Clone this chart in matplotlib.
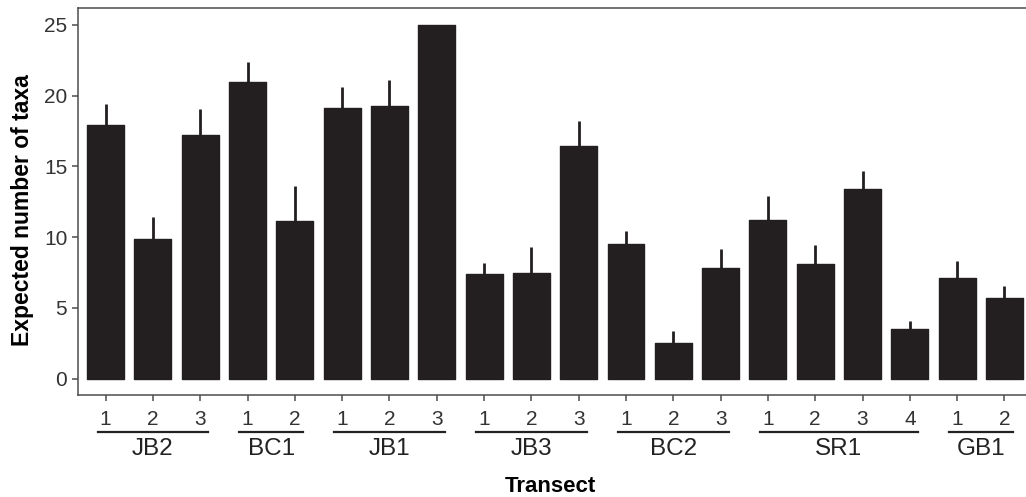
import numpy as np
import matplotlib
matplotlib.use('Agg')
import matplotlib.pyplot as plt
import matplotlib.transforms as mtransforms

plt.rcParams['font.family'] = ['Liberation Sans', 'DejaVu Sans']

# Daten
groups = ['JB2', 'BC1', 'JB1', 'JB3', 'BC2', 'SR1', 'GB1']
group_sizes = [3, 2, 3, 3, 3, 4, 2]
means = [17.9, 9.85, 17.2, 21.0, 11.15, 19.1, 19.3, 25.0, 7.4, 7.45,
         16.45, 9.5, 2.55, 7.8, 11.2, 8.1, 13.4, 3.5, 7.15, 5.7]
upper = [19.4, 11.4, 19.05, 22.4, 13.65, 20.6, 21.1, 25.0, 8.2, 9.3,
         18.2, 10.45, 3.4, 9.15, 12.9, 9.45, 14.65, 4.1, 8.35, 6.55]
tick_labels = [str(i + 1) for n in group_sizes for i in range(n)]

BAR_COL = '#231f20'
AX_COL = '#4d4d4d'

fig = plt.figure(figsize=(10.26, 4.97), dpi=100)
ax = fig.add_axes([0.0757, 0.2052, 0.931, 0.7787])

x = np.arange(1, len(means) + 1)
ax.bar(x, means, width=0.78, color=BAR_COL, edgecolor=BAR_COL,
       linewidth=1.0, joinstyle='round', zorder=2)
ax.vlines(x, means, upper, color=BAR_COL, linewidth=2.0, zorder=3)

ax.set_xlim(0.41, 20.6)
ax.set_ylim(-1.15, 26.2)
ax.set_yticks([0, 5, 10, 15, 20, 25])
ax.set_xticks(x)
ax.set_xticklabels(tick_labels)

for s in ax.spines.values():
    s.set_color(AX_COL)
    s.set_linewidth(1.1)
ax.tick_params(axis='both', colors=AX_COL, length=4.5, width=1.1,
               labelsize=15, labelcolor='#333333')
ax.tick_params(axis='x', pad=6)
ax.tick_params(axis='y', pad=3)

# Gruppen-Beschriftung unter der x-Achse
trans = mtransforms.blended_transform_factory(ax.transData, ax.transAxes)
start = 1
for name, n in zip(groups, group_sizes):
    first, last = start, start + n - 1
    ax.plot([first - 0.17, last + 0.17], [-0.095, -0.095], color='#222222',
            linewidth=1.6, transform=trans, clip_on=False)
    ax.text((first + last) / 2, -0.14, name, transform=trans, ha='center',
            va='center', fontsize=17.5, color='#222222')
    start += n

ax.text(0.5 * (0.41 + 20.6) - 0.1, -0.236, 'Transect', transform=trans,
        ha='center', va='center', fontsize=16, fontweight='bold')
fig.text(0.022, 0.578, 'Expected number of taxa', rotation=90, ha='center',
         va='center', fontsize=16.5, fontweight='bold')

fig.savefig('out.png', dpi=100)
